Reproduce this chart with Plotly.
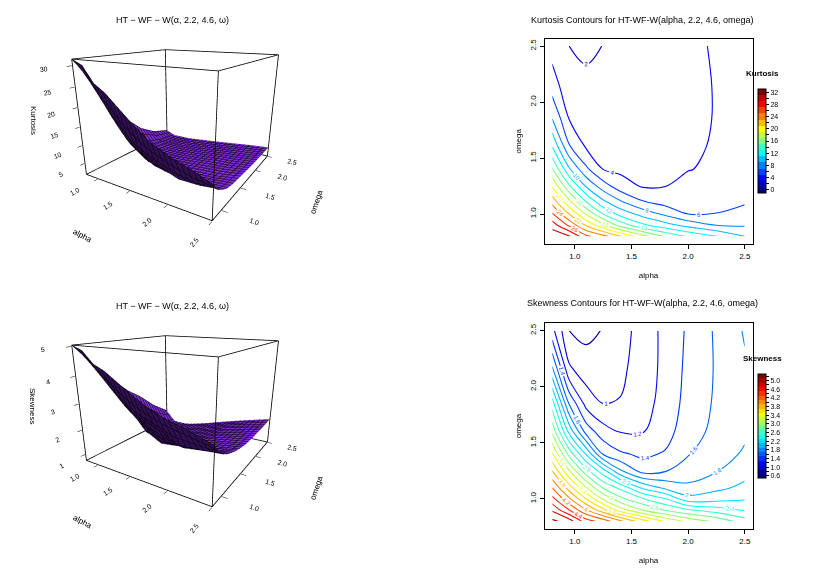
import plotly.graph_objects as go

# grid (rows = omega, columns = alpha)
alpha = [0.8, 0.95, 1.1, 1.25, 1.4, 1.6, 1.8, 2.0, 2.25, 2.5]
omega = [0.8, 0.9, 1.0, 1.1, 1.25, 1.4, 1.6, 1.85, 2.15, 2.5]

kurtosis = [
    [31.5, 30.3, 26.5, 24.7, 22.1, 18.7, 15.7, 13.7, 12.0, 10.0],
    [29.1, 25.6, 21.8, 18.5, 15.3, 12.4, 10.8, 9.35, 8.0, 7.8],
    [26.2, 22.0, 17.8, 14.0, 11.3, 9.25, 7.55, 6.0, 6.05, 6.75],
    [23.5, 18.8, 14.3, 10.7, 8.5, 6.3, 5.4, 5.43, 5.5, 5.85],
    [19.75, 14.3, 9.75, 6.9, 4.9, 3.8, 3.97, 4.57, 4.85, 5.35],
    [16.2, 10.25, 6.4, 3.96, 3.58, 3.41, 3.55, 3.93, 4.3, 5.2],
    [12.0, 6.2, 3.81, 3.19, 2.97, 2.98, 3.3, 3.75, 4.14, 4.95],
    [8.0, 3.95, 2.82, 2.5, 2.53, 2.8, 3.2, 3.65, 4.07, 4.7],
    [5.0, 2.6, 2.23, 2.2, 2.4, 2.72, 3.15, 3.6, 4.08, 4.65],
    [3.15, 2.0, 1.8, 2.02, 2.3, 2.7, 3.15, 3.6, 4.19, 4.65],
]

skewness = [
    [5.05, 4.9, 4.5, 4.32, 4.05, 3.69, 3.37, 3.15, 2.95, 2.7],
    [4.77, 4.41, 4.02, 3.67, 3.31, 3.0, 2.79, 2.63, 2.5, 2.38],
    [4.47, 4.04, 3.6, 3.18, 2.86, 2.62, 2.41, 2.07, 2.12, 2.18],
    [4.2, 3.7, 3.21, 2.78, 2.55, 2.16, 1.95, 1.85, 1.95, 2.05],
    [3.8, 3.21, 2.67, 2.28, 1.83, 1.52, 1.59, 1.68, 1.79, 1.92],
    [3.42, 2.73, 2.18, 1.58, 1.43, 1.36, 1.42, 1.59, 1.7, 1.83],
    [2.95, 2.14, 1.52, 1.28, 1.19, 1.19, 1.32, 1.52, 1.65, 1.76],
    [2.5, 1.58, 1.13, 1.0, 1.01, 1.12, 1.28, 1.47, 1.63, 1.75],
    [1.85, 1.04, 0.89, 0.88, 0.96, 1.09, 1.26, 1.45, 1.62, 1.77],
    [1.26, 0.8, 0.75, 0.81, 0.92, 1.08, 1.26, 1.43, 1.63, 1.82],
]

kurt_ticks = [0, 4, 8, 12, 16, 20, 24, 28, 32]
skew_ticks = [0.6, 1.0, 1.4, 1.8, 2.2, 2.6, 3.0, 3.4, 3.8, 4.2, 4.6, 5.0]
axis_ticks = [1.0, 1.5, 2.0, 2.5]
kurt_zrange = [1.8, 31.5]
skew_zrange = [0.75, 5.05]

# the page body has an 8px margin, so positions below are given in window
# pixels and shifted into the (smaller) figure
OFF = 8
W, H = 815, 560
FONT = "Liberation Sans, Arial, sans-serif"


def jet(t):
    t = min(max(t, 0.0), 1.0)
    r = min(max(1.5 - abs(4 * t - 3), 0), 1)
    g = min(max(1.5 - abs(4 * t - 2), 0), 1)
    b = min(max(1.5 - abs(4 * t - 1), 0), 1)
    return "rgb(%d,%d,%d)" % (r * 255, g * 255, b * 255)


def block_scale(n):
    # discrete jet bar like the R legend
    cs = []
    for k in range(n):
        c = jet(k / (n - 1))
        cs.append([k / n, c])
        cs.append([(k + 1) / n, c])
    return cs


def line_scale(start, step, nlev, c0, cstep, nblk):
    # colour of each contour level = colour of its legend block
    cs = []
    for i in range(nlev):
        lev = start + i * step
        cs.append([i / (nlev - 1), jet((lev - c0) / cstep / (nblk - 1))])
    return cs


def box_edges(xr, yr, zr):
    # the 12 edges of the persp() box, from the axis ranges
    c = lambda i, j, k: (xr[i], yr[j], zr[k])
    pairs = []
    for j in (0, 1):
        for k in (0, 1):
            pairs.append((c(0, j, k), c(1, j, k)))
    for i in (0, 1):
        for k in (0, 1):
            pairs.append((c(i, 0, k), c(i, 1, k)))
    for i in (0, 1):
        for j in (0, 1):
            pairs.append((c(i, j, 0), c(i, j, 1)))
    return pairs


def padded(r, f=0.004):
    # scene range a hair wider than the box so its edges are not clipped
    d = (r[1] - r[0]) * f
    return [r[0] - d, r[1] + d]


def px_x(p):
    return (p - OFF) / W


def px_y(p):
    return 1 - (p - OFF) / H


fig = go.Figure()

purple = [[0, "#7a26d0"], [1, "#7a26d0"]]
mesh = dict(show=True, color="black", width=1, highlight=False)

for z, zr, scene in [(kurtosis, kurt_zrange, "scene"), (skewness, skew_zrange, "scene2")]:
    fig.add_trace(go.Surface(
        x=alpha, y=omega, z=z, colorscale=purple, showscale=False, scene=scene,
        lighting=dict(ambient=0.4, diffuse=0.8, specular=0.05, roughness=0.9, fresnel=0.1),
        lightposition=dict(x=-2000, y=-3000, z=10000),
        contours=dict(
            x=dict(start=0.8, end=2.5, size=0.068, **mesh),
            y=dict(start=0.8, end=2.5, size=0.068, **mesh),
        ),
        hoverinfo="skip",
    ))
    for a, b in box_edges([alpha[0], alpha[-1]], [omega[0], omega[-1]], zr):
        fig.add_trace(go.Scatter3d(x=[a[0], b[0]], y=[a[1], b[1]], z=[a[2], b[2]],
                                   mode="lines", scene=scene,
                                   line=dict(color="black", width=1.6), hoverinfo="skip",
                                   showlegend=False))

# contour lines
fig.add_trace(go.Contour(
    x=alpha, y=omega, z=kurtosis, xaxis="x", yaxis="y",
    contours=dict(start=2, end=30, size=2, coloring="lines", showlabels=True,
                  labelfont=dict(size=6, family=FONT)),
    colorscale=line_scale(2, 2, 15, 0, 2, 17), line=dict(width=1.1),
    showscale=False, hoverinfo="skip",
))
fig.add_trace(go.Contour(
    x=alpha, y=omega, z=skewness, xaxis="x2", yaxis="y2",
    contours=dict(start=0.8, end=5.0, size=0.2, coloring="lines", showlabels=True,
                  labelfont=dict(size=6, family=FONT)),
    colorscale=line_scale(0.8, 0.2, 22, 0.6, 0.2, 24), line=dict(width=1.1),
    showscale=False, hoverinfo="skip",
))

# legend bars
for ax, ay, cmin, cmax, nblk, step, labs, title, top in [
    ("x", "y", -1, 33, 17, 2, kurt_ticks, "Kurtosis", 89),
    ("x2", "y2", 0.5, 5.3, 24, 0.2, skew_ticks, "Skewness", 374),
]:
    tv = [round(cmin + step / 2 + k * step, 2) for k in range(nblk)]
    tt = [("%g" % v if title == "Kurtosis" else "%.1f" % v) if any(abs(v - l) < 1e-6 for l in labs) else ""
          for v in tv]
    fig.add_trace(go.Scatter(
        x=[1.0], y=[1.0], xaxis=ax, yaxis=ay, mode="markers", hoverinfo="skip",
        marker=dict(size=1, opacity=0, color=[cmin], cmin=cmin, cmax=cmax,
                    colorscale=block_scale(nblk), showscale=True,
                    colorbar=dict(
                        x=px_x(758), xanchor="left", y=px_y(top), yanchor="top",
                        len=104 / H, lenmode="fraction", thickness=8,
                        outlinecolor="black", outlinewidth=1,
                        tickvals=tv, ticktext=tt, ticks="outside", ticklen=3,
                        tickcolor="black", tickfont=dict(size=7, family=FONT, color="black"),
                        xpad=0, ypad=0,
                    )),
        showlegend=False,
    ))
    fig.add_annotation(x=px_x(762), y=px_y(top - 16), xref="paper", yref="paper",
                       xanchor="center", yanchor="middle",
                       text="<b>%s</b>" % title, showarrow=False,
                       font=dict(size=8, family=FONT, color="black"))


def scene_axes(title, rng, ticks, fmt):
    return dict(
        title=dict(text=title, font=dict(size=8, family=FONT, color="black")),
        range=padded(rng), tickvals=ticks, ticktext=[fmt % t for t in ticks],
        tickfont=dict(size=9, family=FONT, color="black"),
        showbackground=False, showgrid=False, zeroline=False, showline=False,
        ticks="outside", ticklen=4, tickcolor="black", showspikes=False,
    )


camera = dict(eye=dict(x=1.055, y=-1.683, z=0.574), center=dict(x=0, y=0, z=-0.15),
              projection=dict(type="perspective"))
aspect = dict(x=1, y=1, z=0.8)

fig.update_layout(
    width=W, height=H, margin=dict(l=0, r=0, t=0, b=0),
    paper_bgcolor="white", plot_bgcolor="white", showlegend=False,
    font=dict(family=FONT, color="black"),
    scene=dict(domain=dict(x=[px_x(13), px_x(353)], y=[px_y(254), px_y(14)]),
               aspectmode="manual", aspectratio=aspect, camera=camera,
               xaxis=scene_axes("alpha", [0.8, 2.5], axis_ticks, "%.1f"),
               yaxis=scene_axes("omega", [0.8, 2.5], axis_ticks, "%.1f"),
               zaxis=scene_axes("", kurt_zrange, [5, 10, 15, 20, 25, 30], "%g")),
    scene2=dict(domain=dict(x=[px_x(13), px_x(353)], y=[px_y(540), px_y(300)]),
                aspectmode="manual", aspectratio=aspect, camera=camera,
                xaxis=scene_axes("alpha", [0.8, 2.5], axis_ticks, "%.1f"),
                yaxis=scene_axes("omega", [0.8, 2.5], axis_ticks, "%.1f"),
                zaxis=scene_axes("", skew_zrange, [1, 2, 3, 4, 5], "%g")),
)

for xa, ya, top, bot in [("xaxis", "yaxis", 38.5, 244), ("xaxis2", "yaxis2", 323, 529)]:
    yn = ya.replace("yaxis", "y")
    xn = xa.replace("xaxis", "x")
    common = dict(showline=True, linecolor="black", linewidth=1, mirror=True,
                  ticks="outside", ticklen=4, tickcolor="black", showgrid=False, zeroline=False,
                  range=[0.732, 2.568], tickvals=axis_ticks, ticktext=["%.1f" % t for t in axis_ticks],
                  tickfont=dict(size=8, family=FONT, color="black"))
    fig.update_layout(**{
        xa: dict(domain=[px_x(544.5), px_x(752.5)], anchor=yn,
                 title=dict(text="alpha", font=dict(size=8, family=FONT), standoff=12), **common),
        ya: dict(domain=[px_y(bot), px_y(top)], anchor=xn, tickangle=-90,
                 title=dict(text="omega", font=dict(size=8, family=FONT), standoff=6), **common),
    })

titles = [
    (172, 20, "HT − WF − W(α, 2.2, 4.6, ω)"),
    (172, 306, "HT − WF − W(α, 2.2, 4.6, ω)"),
    (642, 20, "Kurtosis Contours for HT-WF-W(alpha, 2.2, 4.6, omega)"),
    (642, 303, "Skewness Contours for HT-WF-W(alpha, 2.2, 4.6, omega)"),
]
for x, y, t in titles:
    fig.add_annotation(x=px_x(x), y=px_y(y), xref="paper", yref="paper", text=t,
                       xanchor="center", yanchor="middle",
                       showarrow=False, font=dict(size=9, family=FONT, color="black"))

# z labels of the two surfaces, written down the left edge as persp() does
for y, t in [(120, "Kurtosis"), (406, "Skewness")]:
    fig.add_annotation(x=px_x(33), y=px_y(y), xref="paper", yref="paper", text=t,
                       xanchor="center", yanchor="middle", textangle=90,
                       showarrow=False, font=dict(size=8, family=FONT, color="black"))

fig.write_html("out.html")
